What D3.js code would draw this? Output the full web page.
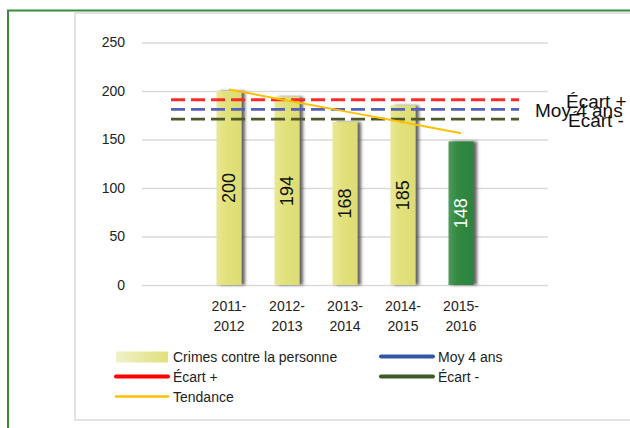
<!DOCTYPE html>
<html>
<head>
<meta charset="utf-8">
<script src="https://cdn.jsdelivr.net/npm/d3@7"></script>
<style>
  body { margin: 0; background: #fff; }
  svg { display: block; font-family: "Liberation Sans", Arial, sans-serif; }
</style>
</head>
<body>
<div id="chart"></div>
<script>
// data
var categories = ["2011-2012", "2012-2013", "2013-2014", "2014-2015", "2015-2016"];
var crimes = [200, 194, 168, 185, 148];
var tendance = [201.6, 190.3, 179, 167.7, 156.4];
var moyenne = 181;
var ecartPlus = 191;
var ecartMoins = 171;
var yTicks = [0, 50, 100, 150, 200, 250];

var svgWidth = 630;
var svgHeight = 428;

var svg = d3.select("#chart")
  .append("svg")
  .attr("width", svgWidth)
  .attr("height", svgHeight);

var defs = svg.append("defs");

var yellowGrad = defs.append("linearGradient").attr("id", "yellowGrad");
yellowGrad.append("stop").attr("offset", "0%").attr("stop-color", "#e8e894");
yellowGrad.append("stop").attr("offset", "40%").attr("stop-color", "#e1e17b");
yellowGrad.append("stop").attr("offset", "100%").attr("stop-color", "#dedc74");

var greenGrad = defs.append("linearGradient").attr("id", "greenGrad");
greenGrad.append("stop").attr("offset", "0%").attr("stop-color", "#4e9a5c");
greenGrad.append("stop").attr("offset", "35%").attr("stop-color", "#318a42");
greenGrad.append("stop").attr("offset", "100%").attr("stop-color", "#2d823d");

var legendGrad = defs.append("linearGradient").attr("id", "legendGrad");
legendGrad.append("stop").attr("offset", "0%").attr("stop-color", "#f1f1c9");
legendGrad.append("stop").attr("offset", "100%").attr("stop-color", "#e0e07b");

var shadow = defs.append("filter").attr("id", "shadow")
  .attr("x", "-20%").attr("y", "-5%").attr("width", "160%").attr("height", "110%");
shadow.append("feDropShadow")
  .attr("dx", 3.5).attr("dy", 0)
  .attr("stdDeviation", 1.5)
  .attr("flood-color", "#444")
  .attr("flood-opacity", 0.85);

// outer frames
svg.append("rect")
  .attr("x", 75).attr("y", 13)
  .attr("width", 600).attr("height", 407)
  .attr("fill", "none")
  .attr("stroke", "#e2e2e2")
  .attr("stroke-width", 2);

svg.append("path")
  .attr("d", "M8,428 V10.5 H630")
  .attr("fill", "none")
  .attr("stroke", "#3a8a3e")
  .attr("stroke-width", 2);

// scales: blank category at each end, as in the original axis
var domainCats = [""].concat(categories).concat([" "]);
var x = d3.scaleBand()
  .domain(domainCats)
  .range([142, 548]);
var barWidth = 25;
var cx = function(c) { return x(c) + x.bandwidth() / 2; };

var y = d3.scaleLinear()
  .domain([0, 250])
  .range([285, 42.5]);

// gridlines
var yAxis = d3.axisLeft(y)
  .tickValues(yTicks)
  .tickSize(-(548 - 142))
  .tickPadding(17);

var yg = svg.append("g")
  .attr("transform", "translate(142,0)")
  .call(yAxis);
yg.select(".domain").remove();
yg.selectAll(".tick line").attr("stroke", "#d9d9d9").attr("stroke-width", 1.5);
yg.selectAll(".tick text")
  .attr("fill", "#222")
  .attr("font-size", "14px")
  .attr("font-family", "Liberation Sans, Arial, sans-serif");

// x axis labels on two lines
var xLabels = svg.append("g");
categories.forEach(function(c) {
  var parts = c.split("-");
  var t = xLabels.append("text")
    .attr("x", cx(c))
    .attr("text-anchor", "middle")
    .attr("font-size", "14px")
    .attr("fill", "#222");
  t.append("tspan").attr("x", cx(c)).attr("y", 311).text(parts[0] + "-");
  t.append("tspan").attr("x", cx(c)).attr("y", 331).text(parts[1]);
});

// bars
svg.selectAll(".bar")
  .data(crimes)
  .enter()
  .append("rect")
  .attr("class", "bar")
  .attr("x", function(d, i) { return cx(categories[i]) - barWidth / 2; })
  .attr("y", function(d) { return y(d); })
  .attr("width", barWidth)
  .attr("height", function(d) { return y(0) - y(d); })
  .attr("fill", function(d, i) { return i === crimes.length - 1 ? "url(#greenGrad)" : "url(#yellowGrad)"; })
  .attr("filter", "url(#shadow)");

// bar value labels
svg.selectAll(".val")
  .data(crimes)
  .enter()
  .append("text")
  .attr("class", "val")
  .attr("transform", function(d, i) {
    return "translate(" + cx(categories[i]) + "," + (y(d) + y(0)) / 2 + ") rotate(-90)";
  })
  .attr("text-anchor", "middle")
  .attr("dy", "0.36em")
  .attr("font-size", "18px")
  .attr("fill", function(d, i) { return i === crimes.length - 1 ? "#fff" : "#111"; })
  .text(function(d) { return d; });

// reference dashed lines
var x0 = cx(domainCats[0]);
var x1 = cx(domainCats[domainCats.length - 1]);
var refLines = [
  { v: ecartPlus, color: "#ff2a2a", label: "Écart +", lx: 566 },
  { v: moyenne, color: "#5560b8", label: "Moy 4 ans", lx: 535 },
  { v: ecartMoins, color: "#4f5a2a", label: "Écart -", lx: 568 }
];

refLines.forEach(function(r) {
  svg.append("line")
    .attr("x1", x0).attr("x2", x1)
    .attr("y1", y(r.v)).attr("y2", y(r.v))
    .attr("stroke", r.color)
    .attr("stroke-width", 2.8)
    .attr("stroke-dasharray", "14,6");
});

// trend line
var trendLine = d3.line()
  .x(function(d, i) { return cx(categories[i]); })
  .y(function(d) { return y(d); });

svg.append("path")
  .datum(tendance)
  .attr("d", trendLine)
  .attr("fill", "none")
  .attr("stroke", "#ffc000")
  .attr("stroke-width", 2);

// labels at right end of the dashed lines
refLines.forEach(function(r) {
  svg.append("text")
    .attr("x", r.lx)
    .attr("y", y(r.v) + 8)
    .attr("font-size", "19px")
    .attr("fill", "#111")
    .text(r.label);
});

// legend
var legend = svg.append("g").attr("font-size", "14px").attr("fill", "#222");

legend.append("rect")
  .attr("x", 116).attr("y", 351.5)
  .attr("width", 52).attr("height", 11)
  .attr("fill", "url(#legendGrad)");
legend.append("text").attr("x", 173).attr("y", 361.5).text("Crimes contre la personne");

var legendLines = [
  { x: 381, y: 356.5, color: "#3455a4", w: 4, label: "Moy 4 ans" },
  { x: 116, y: 376.5, color: "#ff0000", w: 4, label: "Écart +" },
  { x: 381, y: 376.5, color: "#3d5a27", w: 4, label: "Écart -" },
  { x: 116, y: 396.5, color: "#ffc000", w: 2.5, label: "Tendance" }
];

legendLines.forEach(function(l) {
  legend.append("line")
    .attr("x1", l.x).attr("x2", l.x + 52)
    .attr("y1", l.y).attr("y2", l.y)
    .attr("stroke", l.color)
    .attr("stroke-width", l.w)
    .attr("stroke-linecap", "round");
  legend.append("text")
    .attr("x", l.x + 57)
    .attr("y", l.y + 5)
    .text(l.label);
});
</script>
</body>
</html>
